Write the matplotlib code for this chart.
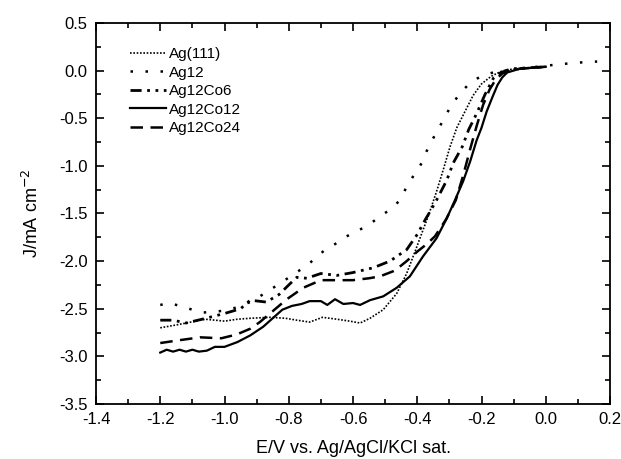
import matplotlib
matplotlib.use("Agg")
import matplotlib.pyplot as plt
from matplotlib.ticker import MultipleLocator

plt.rcParams['font.family'] = ['Liberation Sans', 'DejaVu Sans']
plt.rcParams['axes.unicode_minus'] = False

# Ag(111)
e_ag111 = [-1.2, -1.15, -1.09, -1.06, -1.0, -0.96, -0.92, -0.86, -0.81, -0.775, -0.735, -0.695, -0.65, -0.61,
           -0.578, -0.547, -0.506, -0.464, -0.433, -0.407, -0.385, -0.365, -0.34, -0.319, -0.298, -0.277,
           -0.25, -0.226, -0.2, -0.17, -0.14, -0.12, -0.08, -0.04, 0.0]
j_ag111 = [-2.70, -2.67, -2.63, -2.61, -2.63, -2.61, -2.60, -2.59, -2.60, -2.62, -2.64, -2.59, -2.61, -2.63,
           -2.65, -2.60, -2.51, -2.34, -2.13, -1.90, -1.70, -1.52, -1.27, -1.04, -0.80, -0.60,
           -0.42, -0.26, -0.14, -0.06, -0.01, 0.01, 0.02, 0.03, 0.04]

# Ag12
e_ag12 = [-1.2, -1.17, -1.14, -1.10, -1.067, -1.03, -1.0, -0.967, -0.92, -0.89, -0.83, -0.79, -0.75, -0.72,
          -0.687, -0.65, -0.62, -0.584, -0.547, -0.516, -0.48, -0.454, -0.43, -0.407, -0.386, -0.37, -0.352,
          -0.332, -0.313, -0.293, -0.267, -0.236, -0.20, -0.164, -0.12, -0.08, -0.04, 0.0, 0.04, 0.08, 0.115, 0.16]
j_ag12 = [-2.46, -2.44, -2.47, -2.51, -2.54, -2.53, -2.52, -2.49, -2.43, -2.37, -2.24, -2.15, -2.06, -1.98,
          -1.88, -1.81, -1.74, -1.68, -1.61, -1.53, -1.45, -1.36, -1.20, -1.08, -0.97, -0.84, -0.72,
          -0.60, -0.48, -0.36, -0.24, -0.13, -0.056, -0.02, 0.005, 0.02, 0.035, 0.05, 0.066, 0.077, 0.087, 0.095]

# Ag12Co6
e_co6 = [-1.2, -1.16, -1.12, -1.07, -1.0, -0.95, -0.92, -0.87, -0.83, -0.80, -0.775, -0.744, -0.70, -0.65,
         -0.60, -0.537, -0.485, -0.433, -0.40, -0.376, -0.355, -0.34, -0.308, -0.288, -0.26, -0.24, -0.215,
         -0.189, -0.163, -0.14, -0.10, -0.05, 0.0]
j_co6 = [-2.62, -2.62, -2.65, -2.61, -2.55, -2.50, -2.41, -2.43, -2.35, -2.25, -2.17, -2.18, -2.13, -2.15,
         -2.12, -2.07, -2.0, -1.88, -1.72, -1.57, -1.45, -1.36, -1.15, -0.97, -0.80, -0.62, -0.45,
         -0.25, -0.08, -0.02, 0.02, 0.03, 0.04]

# Ag12Co12
e_co12 = [-1.2, -1.18, -1.16, -1.14, -1.12, -1.10, -1.08, -1.055, -1.03, -1.0, -0.96, -0.92, -0.88, -0.85,
          -0.82, -0.79, -0.76, -0.735, -0.70, -0.68, -0.656, -0.63, -0.60, -0.578, -0.547, -0.506, -0.464,
          -0.423, -0.382, -0.34, -0.308, -0.28, -0.257, -0.235, -0.215, -0.20, -0.184, -0.165, -0.15,
          -0.135, -0.12, -0.08, -0.04, 0.0]
j_co12 = [-2.96, -2.93, -2.95, -2.93, -2.95, -2.93, -2.95, -2.94, -2.90, -2.90, -2.85, -2.78, -2.69, -2.60,
          -2.51, -2.47, -2.45, -2.42, -2.42, -2.46, -2.40, -2.45, -2.44, -2.46, -2.41, -2.37, -2.28,
          -2.16, -1.95, -1.76, -1.55, -1.34, -1.16, -0.95, -0.73, -0.60, -0.43, -0.27, -0.15,
          -0.07, -0.02, 0.02, 0.03, 0.04]

# Ag12Co24
e_co24 = [-1.2, -1.14, -1.076, -1.01, -0.962, -0.92, -0.89, -0.848, -0.806, -0.755, -0.70, -0.65, -0.60,
          -0.55, -0.516, -0.47, -0.433, -0.40, -0.37, -0.345, -0.31, -0.28, -0.257, -0.235, -0.215, -0.195,
          -0.175, -0.155, -0.135, -0.11, -0.08, -0.04, 0.0]
j_co24 = [-2.86, -2.83, -2.80, -2.81, -2.77, -2.71, -2.64, -2.52, -2.40, -2.28, -2.20, -2.20, -2.20,
          -2.18, -2.16, -2.10, -2.0, -1.90, -1.82, -1.74, -1.56, -1.36, -1.10, -0.82, -0.58, -0.36,
          -0.20, -0.09, -0.03, 0.0, 0.02, 0.03, 0.04]

fig = plt.figure(figsize=(6.21, 4.59), dpi=100)
ax = fig.add_axes([0.1546, 0.1198, 0.8277, 0.8302])

ax.plot(e_ag111, j_ag111, color='black', lw=1.2, linestyle=(0, (1, 1)), label='Ag(111)')
ax.plot(e_ag12, j_ag12, color='black', lw=1.8, linestyle=(0, (1, 5)), label='Ag12')
ax.plot(e_co6, j_co6, color='black', lw=2.0, linestyle=(0, (4, 2, 1, 2, 1, 2)), label='Ag12Co6')
ax.plot(e_co12, j_co12, color='black', lw=1.6, linestyle='-', label='Ag12Co12')
ax.plot(e_co24, j_co24, color='black', lw=1.8, linestyle=(0, (5, 3)), label='Ag12Co24')

ax.set_xlim(-1.4, 0.2)
ax.set_ylim(-3.5, 0.5)
ax.xaxis.set_major_locator(MultipleLocator(0.2))
ax.xaxis.set_minor_locator(MultipleLocator(0.1))
ax.yaxis.set_major_locator(MultipleLocator(0.5))
ax.yaxis.set_minor_locator(MultipleLocator(0.25))
ax.xaxis.set_major_formatter(plt.FuncFormatter(lambda v, p: f"{v:.1f}"))
ax.yaxis.set_major_formatter(plt.FuncFormatter(lambda v, p: f"{v:.1f}"))
ax.tick_params(which='both', direction='in', top=True, right=True, width=1.2, labelsize=12)
ax.tick_params(which='major', length=6)
ax.tick_params(which='minor', length=3.5)
ax.tick_params(axis='x', pad=6)
ax.tick_params(axis='y', pad=6)
for s in ax.spines.values():
    s.set_linewidth(1.3)

ax.set_xlabel("E/V vs. Ag/AgCl/KCl sat.", fontsize=13, labelpad=9)
ax.set_ylabel("J/mA cm$^{-2}$", fontsize=13, labelpad=12)

ax.legend(loc='upper left', bbox_to_anchor=(0.045, 0.965), frameon=False, fontsize=11,
          handlelength=2.4, handletextpad=0.15, labelspacing=0.3, borderpad=0.2)

fig.savefig("out.png", dpi=100)
